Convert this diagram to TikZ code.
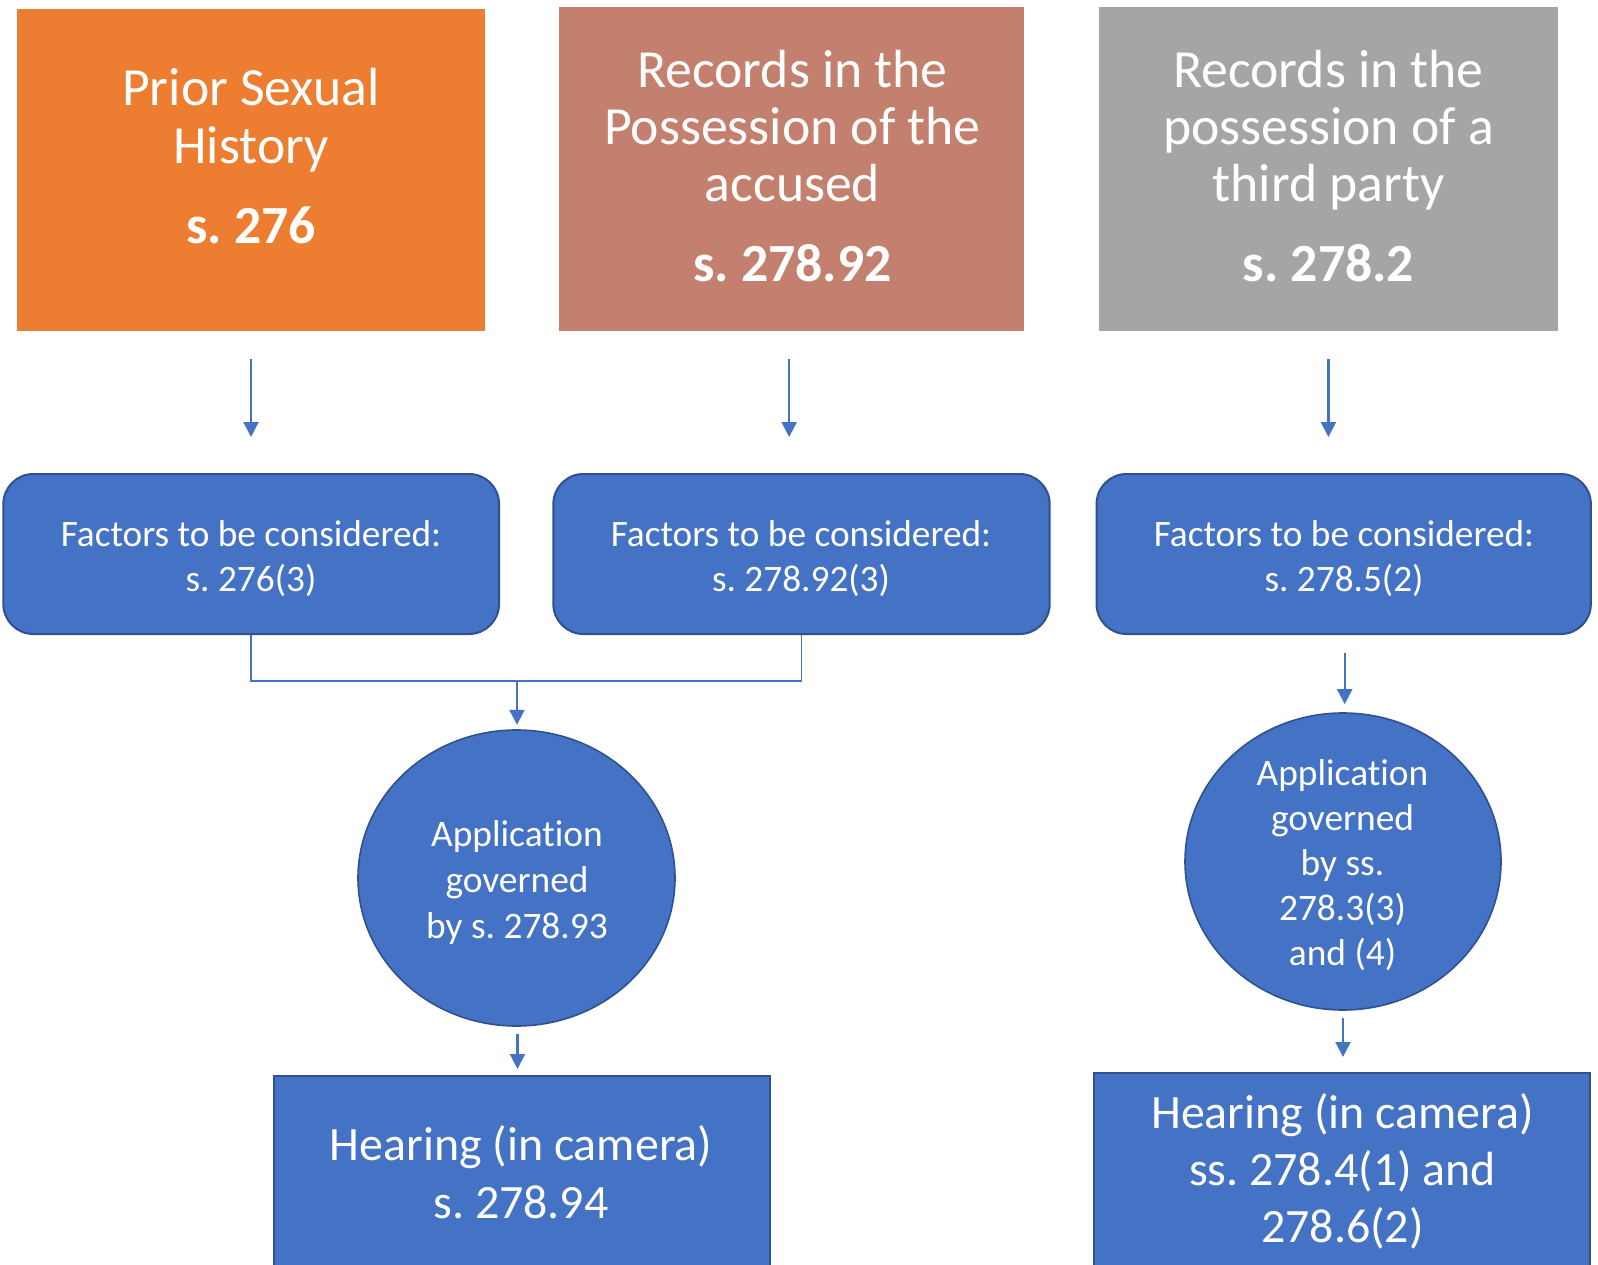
\documentclass[tikz,border=0pt]{standalone}
\usepackage{fontspec}
\setmainfont{Carlito}[Ligatures=NoCommon]
\usetikzlibrary{arrows.meta,shapes.geometric}
\definecolor{orng}{HTML}{ED7D31}
\definecolor{salm}{HTML}{C4806F}
\definecolor{gry}{HTML}{A5A5A5}
\definecolor{blu}{HTML}{4472C4}
\definecolor{bluedge}{HTML}{2F528F}
\newcommand{\mlines}[1]{\begin{tabular}[t]{@{}c@{}}#1\end{tabular}}
\frenchspacing
\begin{document}
\begin{tikzpicture}[x=1pt,y=-1pt,
  titlebox/.style={rectangle, inner sep=0pt, draw=none},
  factorbox/.style={rectangle, rounded corners=30pt, fill=blu, draw=bluedge, line width=2pt, inner sep=0pt, minimum height=160pt},
  appcirc/.style={ellipse, fill=blu, draw=bluedge, line width=1.6pt, inner sep=0pt},
  hearbox/.style={rectangle, fill=blu, draw=bluedge, line width=2pt, inner sep=0pt},
  titletext/.style={anchor=base, inner sep=0pt, text=white, font=\fontsize{53.7}{57.3}\selectfont},
  factortext/.style={anchor=base, inner sep=0pt, text=white, font=\fontsize{37.3}{45.7}\selectfont},
  circtext/.style={anchor=base, inner sep=0pt, text=white, font=\fontsize{37.4}{45.8}\selectfont},
  heartext/.style={anchor=base, inner sep=0pt, text=white, font=\fontsize{47.9}{57.6}\selectfont},
  arr/.style={draw=blu, line width=2.2pt, -{Triangle[length=15pt,width=15pt]}},
  conn/.style={draw=blu, line width=1.5pt}]
\useasboundingbox (0,0) rectangle (1598,1265);
\clip (0,0) rectangle (1598,1265);
\fill[white] (0,0) rectangle (1598,1265);

% title boxes
\node[titlebox, fill=orng, minimum width=468pt, minimum height=321.7pt] (t1) at (251,169.85) {};
\node[titlebox, fill=salm, minimum width=465.3pt, minimum height=324pt] (t2) at (791.65,168.7) {};
\node[titlebox, fill=gry, minimum width=459.6pt, minimum height=324pt] (t3) at (1328.4,168.7) {};
\node[titletext] (tt1) at (251,106) {\mlines{Prior Sexual\\ History\\[22.7pt] \textbf{s. 276}}};
\node[titletext] (tt2) at (792.5,87.3) {\mlines{Records in the\\ Possession of the\\ accused\\[22.7pt] \textbf{s. 278.92}}};
\node[titletext] (tt3) at (1328.5,87.3) {\mlines{Records in the\\ possession of a\\ third party\\[22.7pt] \textbf{s. 278.2}}};

% factor boxes
\node[factorbox, minimum width=495.7pt] (f1) at (251.2,554) {};
\node[factorbox, minimum width=496.3pt] (f2) at (801.5,554) {};
\node[factorbox, minimum width=494.3pt] (f3) at (1343.7,554) {};
\node[factortext] (ft1) at (251,546) {\mlines{Factors to be considered:\\ s. 276(3)}};
\node[factortext] (ft2) at (801,546) {\mlines{Factors to be considered:\\ s. 278.92(3)}};
\node[factortext] (ft3) at (1344,546) {\mlines{Factors to be considered:\\ s. 278.5(2)}};

% application circles
\node[appcirc, minimum width=317pt, minimum height=296pt] (c1) at (516.5,878) {};
\node[appcirc, minimum width=316pt, minimum height=297pt] (c2) at (1343,861.5) {};
\node[circtext] (ct1) at (517,846.7) {\mlines{Application\\ governed\\ by s. 278.93}};
\node[circtext, font=\fontsize{37.4}{45}\selectfont] (ct2) at (1342.5,785) {\mlines{Application\\ governed\\ by ss.\\ 278.3(3)\\ and (4)}};

% hearing boxes
\node[hearbox, minimum width=496pt, minimum height=204pt] (h1) at (522,1178) {};
\node[hearbox, minimum width=496pt, minimum height=207.3pt] (h2) at (1342,1176.35) {};
\node[heartext, font=\fontsize{47.9}{58.3}\selectfont] (ht1) at (521,1160) {\mlines{Hearing (in camera)\\ s. 278.94}};
\node[heartext, font=\fontsize{47.9}{57.2}\selectfont] (ht2) at (1342.5,1128.3) {\mlines{Hearing (in camera)\\ ss. 278.4(1) and\\ 278.6(2)}};

% connectors
\draw[arr, shorten <=28.3pt, shorten >=36pt] (t1.south) -- (t1.south |- f1.north);
\draw[arr, shorten <=28.3pt, shorten >=36pt] ([xshift=-2.5pt]t2.south) -- ([xshift=-2.5pt]t2.south |- f2.north);
\draw[arr, shorten <=28.3pt, shorten >=36pt] (t3.south) -- (t3.south |- f3.north);

\coordinate (j) at (517,681);
\draw[conn] (f1.south) |- (j) -| (f2.south);
\draw[arr, shorten >=4.4pt] (j) -- (j |- c1.north);
\draw[arr, shorten <=7pt, shorten >=6pt] ([xshift=1pt]c1.south) -- ([xshift=1pt]c1.south |- h1.north);

\draw[arr, shorten <=18pt, shorten >=8pt] ([xshift=1pt]f3.south) -- ([xshift=1pt]f3.south |- c2.north);
\draw[arr, shorten <=7pt, shorten >=14.7pt] (c2.south) -- (c2.south |- h2.north);
\end{tikzpicture}
\end{document}
